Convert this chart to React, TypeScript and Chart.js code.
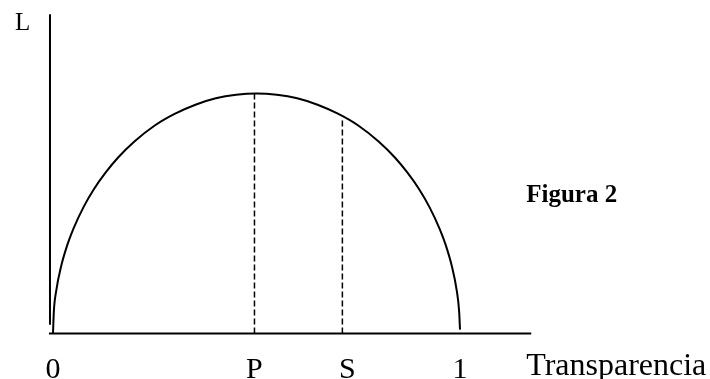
import React, { useEffect, useRef } from "react";
import { Chart, registerables } from "chart.js";

Chart.register(...registerables);

// Curve L(transparencia)
const curveX = [0, 0.002, 0.008, 0.02, 0.035, 0.05, 0.075, 0.1, 0.13, 0.16, 0.2, 0.25, 0.3, 0.35, 0.4, 0.45, 0.5, 0.55, 0.6, 0.65, 0.7, 0.75, 0.8, 0.84, 0.87, 0.9, 0.925, 0.95, 0.965, 0.98, 0.992, 0.998, 1.0];
const curveY = [0, 0.067, 0.134, 0.21, 0.276, 0.327, 0.395, 0.45, 0.504, 0.55, 0.6, 0.65, 0.687, 0.715, 0.735, 0.746, 0.75, 0.746, 0.735, 0.715, 0.687, 0.65, 0.6, 0.55, 0.504, 0.45, 0.395, 0.327, 0.276, 0.21, 0.134, 0.067, 0.012];

// Dashed markers
const markerX = [0.495, 0.711];
const markerTop = [0.75, 0.673];

// Tick labels on the horizontal axis
const tickValues = [0, 0.495, 0.711, 1];
const tickLabels = ["0", "P", "S", "1"];

const xTitle = "Transparencia";
const yTitle = "L";
const note = "Figura 2";

// axis extents
const xAxisRange = [-0.01, 1.175];
const yAxisRange = [0.027, 0.998];

const X_MIN = -53 / 407;
const X_MAX = 657 / 407;
const Y_MIN = -45.5 / 320;
const Y_MAX = 333.5 / 320;

export default function App() {
  const ref = useRef<HTMLCanvasElement | null>(null);

  useEffect(() => {
    if (!ref.current) return;
    const textPlugin = {
      id: "texts",
      afterDraw(chart: any) {
        const ctx = chart.ctx;
        const xs = chart.scales.x;
        const ys = chart.scales.y;
        ctx.save();
        ctx.fillStyle = "#000";
        ctx.textBaseline = "alphabetic";
        ctx.font = "30px 'Liberation Serif', 'Times New Roman', serif";
        ctx.textAlign = "center";
        const offsets = [0, 0, 5, 0];
        tickValues.forEach((v, i) => {
          ctx.fillText(tickLabels[i], xs.getPixelForValue(v) + offsets[i], ys.getPixelForValue(0) + 44.5);
        });
        ctx.textAlign = "left";
        ctx.font = "32px 'Liberation Serif', 'Times New Roman', serif";
        ctx.fillText(xTitle, xs.getPixelForValue(xAxisRange[1]) - 5, ys.getPixelForValue(0) + 41.5);
        ctx.font = "25px 'Liberation Serif', 'Times New Roman', serif";
        ctx.fillText(yTitle, xs.getPixelForValue(xAxisRange[0]) - 34, ys.getPixelForValue(yAxisRange[1]) + 16);
        ctx.font = "bold 25px 'Liberation Serif', 'Times New Roman', serif";
        ctx.fillText(note, xs.getPixelForValue(1.175) - 5, ys.getPixelForValue(0.4125));
        ctx.restore();
      },
    };

    const curve = curveX.map((x, i) => ({ x, y: curveY[i] }));
    const markers = markerX.map((x, i) => ({
      label: "m" + i,
      data: [
        { x, y: 0 },
        { x, y: markerTop[i] },
      ],
      borderColor: "#000",
      borderWidth: 1.5,
      borderDash: [6, 3],
      pointRadius: 0,
      tension: 0,
    }));

    const chart = new Chart(ref.current, {
      type: "line",
      data: {
        datasets: [
          {
            label: "x-axis",
            data: [
              { x: xAxisRange[0], y: 0 },
              { x: xAxisRange[1], y: 0 },
            ],
            borderColor: "#000",
            borderWidth: 2,
            pointRadius: 0,
          },
          {
            label: "y-axis",
            data: [
              { x: -0.0074, y: yAxisRange[0] },
              { x: -0.0074, y: yAxisRange[1] },
            ],
            borderColor: "#000",
            borderWidth: 2,
            pointRadius: 0,
          },
          ...markers,
          {
            label: "L",
            data: curve,
            borderColor: "#000",
            borderWidth: 2,
            pointRadius: 0,
            cubicInterpolationMode: "monotone",
          },
        ] as any,
      },
      options: {
        animation: false,
        responsive: false,
        devicePixelRatio: 1,
        layout: { padding: 0, autoPadding: false },
        plugins: { legend: { display: false }, tooltip: { enabled: false } },
        scales: {
          x: { type: "linear", min: X_MIN, max: X_MAX, display: false },
          y: { type: "linear", min: Y_MIN, max: Y_MAX, display: false },
        },
      } as any,
      plugins: [textPlugin],
    });
    return () => chart.destroy();
  }, []);

  return (
    <div style={{ position: "fixed", left: 0, top: 0, width: 710, height: 379, background: "#fff" }}>
      <canvas ref={ref} width={710} height={379} style={{ display: "block" }} />
    </div>
  );
}
